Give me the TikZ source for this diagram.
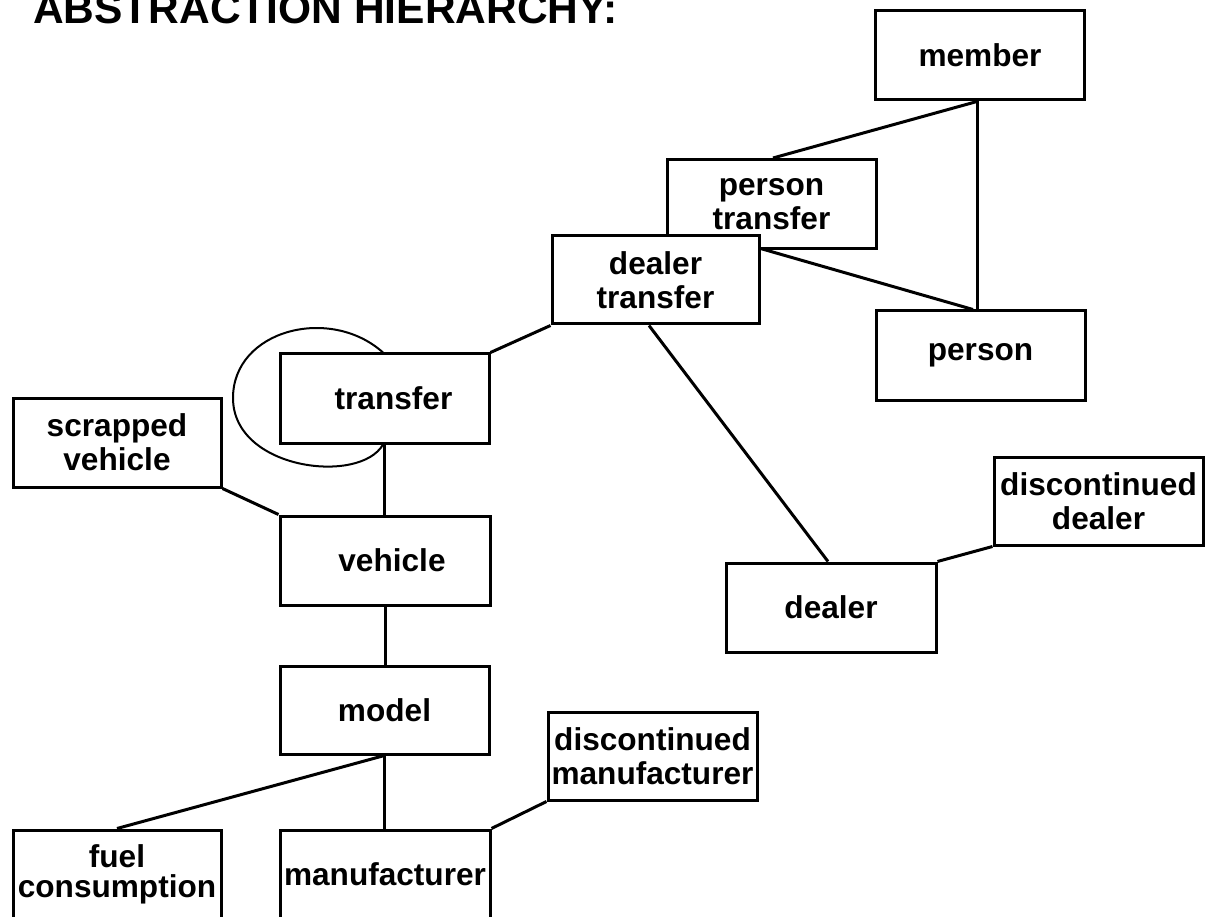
\documentclass[tikz,border=0pt]{standalone}
\usepackage{fontspec}
\setmainfont{Liberation Sans}
\begin{document}
\begin{tikzpicture}[x=1pt,y=-1pt,
  box/.style={draw,line width=3pt,fill=white,inner sep=2pt,align=center,
    font=\bfseries\fontsize{31.6}{34}\selectfont,
    minimum width=209pt,minimum height=89pt},
  link/.style={line width=3pt},
  loopline/.style={line width=2pt}]
\useasboundingbox (0,0) rectangle (1208,917);
\node[anchor=base west,inner sep=0pt,font=\bfseries\fontsize{42.5}{48}\selectfont] (title) at (33,24) {ABSTRACTION HIERARCHY:};
% boxes
\node[box] (member) at (980,55.5) {member};
\node[box] (ptransfer) at (771.5,204) {person\\transfer};
\node[box,minimum width=207pt,minimum height=88pt] (dtransfer) at (655.5,280) {dealer\\transfer};
\node[box] (person) at (980.5,355.5) {person};
\node[box] (transfer) at (384.5,398.5) {\hspace*{18pt}transfer};
\node[box,minimum width=208pt] (scrapped) at (117,442.5) {scrapped\\vehicle};
\node[box,minimum width=210pt] (vehicle) at (385,560.5) {\hspace*{14pt}vehicle};
\node[box,minimum height=88pt] (model) at (384.5,710) {model};
\node[box,minimum width=210pt] (dealer) at (831,607.5) {dealer};
\node[box,minimum height=88pt] (ddealer) at (1098.5,501) {discontinued\\dealer};
\node[box,minimum height=88pt] (dmanuf) at (652.5,756) {discontinued\\manufacturer};
\node[box,minimum width=208pt,font=\bfseries\fontsize{31.6}{30}\selectfont] (fuel) at (117,874.5) {fuel\\consumption};
\node[box,minimum width=210pt] (manuf) at (385,874.5) {manufacturer};
% connectors
\draw[link] ([xshift=-3pt]member.south) -- ([xshift=-3pt]member.south |- person.north);
\draw[link] ([xshift=-3pt]member.south) -- ([xshift=1.5pt]ptransfer.north);
\draw[link] ([yshift=-14pt]dtransfer.north east) -- ([xshift=-7.5pt]person.north);
\draw[link] (dtransfer.south west) -- (transfer.north east);
\draw[link] ([xshift=-6.5pt]dtransfer.south) -- ([xshift=-3pt]dealer.north);
\draw[link] (dealer.north east) -- (ddealer.south west);
\draw[link] ([xshift=-0.5pt]transfer.south) -- ([xshift=-1pt]vehicle.north);
\draw[link] (scrapped.south east) -- (vehicle.north west);
\draw[link] (vehicle.south) -- ([xshift=0.5pt]model.north);
\draw[link] (model.south) -- (fuel.north);
\draw[link] (model.south) -- ([xshift=-0.5pt]manuf.north);
\draw[link] (manuf.north east) -- (dmanuf.south west);
\draw[loopline] ([xshift=-1.5pt]transfer.north) .. controls (330,305) and (233,330) .. (233,398)
  .. controls (233,470) and (360,485) .. ([xshift=-1.5pt]transfer.south);
\end{tikzpicture}
\end{document}
